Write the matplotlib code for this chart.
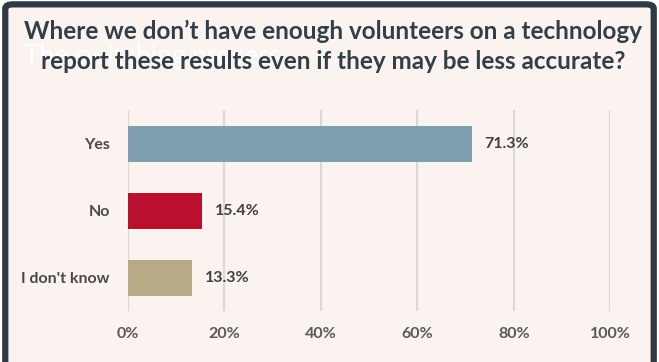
import matplotlib.pyplot as plt
from matplotlib.patches import FancyBboxPatch

plt.rcParams['font.family'] = ['Lato', 'DejaVu Sans']

categories = ['Yes', 'No', "I don't know"]
values = [71.3, 15.4, 13.3]
colors = ['#7f9faf', '#ba0f2e', '#b8a987']
ticks = [0, 20, 40, 60, 80, 100]
title = 'Where we don\u2019t have enough volunteers on a technology\nreport these results even if they may be less accurate?'

bg = '#fbf3f0'
fig = plt.figure(figsize=(6.59, 3.62), dpi=100)
fig.patch.set_facecolor('white')

# dark rounded frame, open at the bottom
frame = FancyBboxPatch((0.008, -0.05), 0.984, 1.038, boxstyle='round,pad=0,rounding_size=0.012',
                       transform=fig.transFigure, facecolor=bg, edgecolor='#2f3a44', linewidth=4.5,
                       zorder=-5)
fig.patches.append(frame)

fig.text(0.036, 0.845, 'The switching process', color='white', fontsize=19, ha='left', va='center',
         zorder=1)
fig.text(0.505, 0.872, title, color='#333f48', fontsize=17.5, fontweight='bold', ha='center',
         va='center', linespacing=1.32, zorder=2)

ax = fig.add_axes([0.194, 0.14, 0.732, 0.555])
ax.set_facecolor('none')
y = list(range(len(categories)))
ax.barh(y, values, height=0.54, color=colors, zorder=3)
for yi, v in zip(y, values):
    ax.text(v + 2.6, yi, f'{v:.1f}%', va='center', ha='left', fontsize=11.5, fontweight='bold',
            color='#404040')

ax.set_xlim(0, 100)
ax.set_ylim(len(categories) - 0.5, -0.5)
ax.set_yticks(y)
ax.set_yticklabels(categories, fontsize=11.5, fontweight='bold', color='#4a4a4a')
ax.set_xticks(ticks)
ax.set_xticklabels([f'{t}%' for t in ticks], fontsize=11.5, fontweight='bold', color='#595959')
ax.tick_params(length=0)
ax.tick_params(axis='x', pad=11)
ax.tick_params(axis='y', pad=13)
ax.grid(axis='x', color='#d9d9d9', linewidth=1.6, zorder=0)
for s in ax.spines.values():
    s.set_visible(False)

fig.savefig('out.png', dpi=100, facecolor=fig.get_facecolor())
